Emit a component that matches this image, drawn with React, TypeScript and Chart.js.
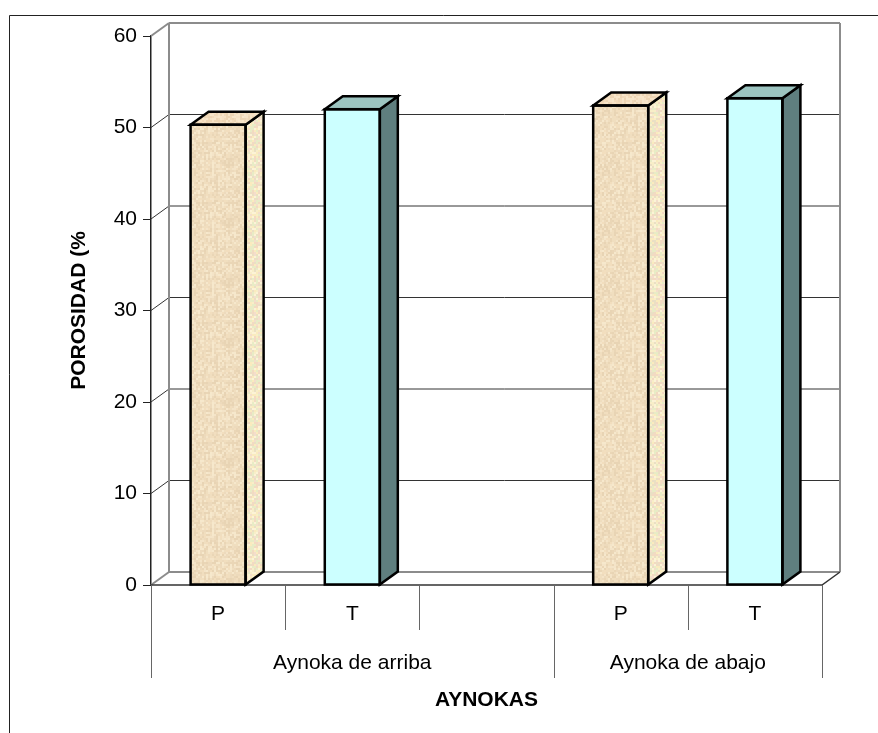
import React, { useEffect, useRef } from 'react';
import { Chart, registerables } from 'chart.js';

Chart.register(...registerables);

// ---- data ----
const categories = ['P', 'T', '', 'P', 'T'];
const porosity: (number | null)[] = [50.3, 52.0, null, 52.4, 53.2];
const groupLabels = ['Aynoka de arriba', 'Aynoka de abajo'];
const groupSizes = [3, 2];
const yMin = 0;
const yMax = 60;
const yStep = 10;
const yTitle = 'POROSIDAD (%';
const xTitle = 'AYNOKAS';

// ---- style ----
const FONT = 'Liberation Sans, Arial, sans-serif';
const FS = 21;
const DX = 18;
const DY = -13;

function hash(x: number, y: number, s: number) {
  let h = (Math.imul(x, 374761393) + Math.imul(y, 668265263) + Math.imul(s, 144665)) | 0;
  h = Math.imul(h ^ (h >>> 13), 1274126177);
  h = h ^ (h >>> 16);
  return (h >>> 0) / 4294967296;
}

function makeTexture(palette: string[], seed: number, size = 60, block = 2) {
  const c = document.createElement('canvas');
  c.width = size;
  c.height = size;
  const g = c.getContext('2d')!;
  for (let y = 0; y < size; y += block) {
    for (let x = 0; x < size; x += block) {
      g.fillStyle = palette[Math.floor(hash(x, y, seed) * palette.length)];
      g.fillRect(x, y, block, block);
    }
  }
  return c;
}

export default function App() {
  const ref = useRef<HTMLCanvasElement | null>(null);

  useEffect(() => {
    const canvas = ref.current;
    if (!canvas) return;
    const ctx = canvas.getContext('2d')!;

    const pFront = ctx.createPattern(
      makeTexture(['#F0DEBF', '#F4E4C8', '#EAD6B6', '#F6E8CC', '#EDDABC', '#F2DEBE', '#E8D4B4'], 1),
      'repeat'
    )!;
    const pSide = ctx.createPattern(
      makeTexture(['#F8EEC8', '#F4DECC', '#E8ECC6', '#FAEBBE', '#F2DAC2', '#FCF3D6', '#EADFC4'], 2),
      'repeat'
    )!;
    const pTop = ctx.createPattern(
      makeTexture(['#F2DABA', '#F6E2C6', '#EDD5B4', '#F8E6CA'], 3),
      'repeat'
    )!;

    const faces: Record<string, { front: any; side: any; top: any }> = {
      P: { front: pFront, side: pSide, top: pTop },
      T: { front: '#CCFFFF', side: '#5F7F7F', top: '#9CC4C0' },
    };

    const plugin = {
      id: 'excel3d',
      beforeDatasetsDraw(chart: any) {
        const { ctx: c, chartArea, scales } = chart;
        const { left, right, top, bottom } = chartArea;
        const y = scales.y;
        const x = scales.x;
        c.save();
        // outer frame
        c.strokeStyle = '#222';
        c.lineWidth = 1;
        c.beginPath();
        c.moveTo(9.5, chart.height);
        c.lineTo(9.5, 15.5);
        c.lineTo(chart.width, 15.5);
        c.stroke();

        // back wall gridlines + left wall diagonals
        const ticks = y.ticks.map((t: any) => t.value);
        ticks.forEach((v: number) => {
          const py = y.getPixelForValue(v);
          const edge = v === yMin || v === yMax;
          c.strokeStyle = edge ? '#8C8C8C' : '#333';
          c.lineWidth = edge ? 2 : 1;
          c.beginPath();
          c.moveTo(left + DX, py + DY);
          c.lineTo(right + DX, py + DY);
          c.stroke();
          c.beginPath();
          c.moveTo(left, py);
          c.lineTo(left + DX, py + DY);
          c.stroke();
        });
        // back wall vertical edges
        c.strokeStyle = '#8C8C8C';
        c.lineWidth = 2;
        c.beginPath();
        c.moveTo(left + DX, top + DY);
        c.lineTo(left + DX, bottom + DY);
        c.moveTo(right + DX, top + DY);
        c.lineTo(right + DX, bottom + DY);
        c.stroke();

        // floor front edge and right diagonal
        c.strokeStyle = '#333';
        c.lineWidth = 1.5;
        c.beginPath();
        c.moveTo(left, bottom);
        c.lineTo(right, bottom);
        c.lineTo(right + DX, bottom + DY);
        c.stroke();

        // category dividers and group dividers
        const n = categories.length;
        const bounds: number[] = [];
        for (let i = 0; i <= n; i++) {
          if (i === 0) bounds.push(left);
          else if (i === n) bounds.push(right);
          else bounds.push((x.getPixelForTick(i - 1) + x.getPixelForTick(i)) / 2);
        }
        const groupIdx = new Set<number>([0]);
        let acc = 0;
        groupSizes.forEach((s) => {
          acc += s;
          groupIdx.add(acc);
        });
        c.strokeStyle = '#666';
        c.lineWidth = 1;
        bounds.forEach((bx, i) => {
          const len = groupIdx.has(i) ? 93 : 45;
          const px = Math.round(bx) + 0.5;
          c.beginPath();
          c.moveTo(px, bottom);
          c.lineTo(px, bottom + len);
          c.stroke();
        });

        // group labels
        c.fillStyle = '#000';
        c.font = `${FS}px ${FONT}`;
        c.textAlign = 'center';
        c.textBaseline = 'middle';
        let start = 0;
        groupSizes.forEach((s, gi) => {
          const cx = (bounds[start] + bounds[start + s]) / 2;
          c.fillText(groupLabels[gi], cx, bottom + 78);
          start += s;
        });
        c.restore();
      },
      afterDatasetsDraw(chart: any) {
        const { ctx: c } = chart;
        const meta = chart.getDatasetMeta(0);
        c.save();
        c.strokeStyle = '#000';
        c.lineWidth = 2.5;
        c.lineJoin = 'miter';
        meta.data.forEach((el: any, i: number) => {
          const v = porosity[i];
          if (v === null || v === undefined) return;
          const f = faces[categories[i]];
          const props = el.getProps(['x', 'y', 'base', 'width'], true);
          const x0 = props.x - props.width / 2;
          const x1 = props.x + props.width / 2;
          const yt = props.y;
          const yb = props.base;
          // side face
          c.fillStyle = f.side;
          c.beginPath();
          c.moveTo(x1, yt);
          c.lineTo(x1 + DX, yt + DY);
          c.lineTo(x1 + DX, yb + DY);
          c.lineTo(x1, yb);
          c.closePath();
          c.fill();
          c.stroke();
          // top face
          c.fillStyle = f.top;
          c.beginPath();
          c.moveTo(x0, yt);
          c.lineTo(x0 + DX, yt + DY);
          c.lineTo(x1 + DX, yt + DY);
          c.lineTo(x1, yt);
          c.closePath();
          c.fill();
          c.stroke();
          // front outline
          c.strokeRect(x0, yt, x1 - x0, yb - yt);
        });
        c.restore();
      },
    };

    const chart = new Chart(canvas, {
      type: 'bar',
      data: {
        labels: categories,
        datasets: [
          {
            data: porosity as any,
            backgroundColor: categories.map((k) => (faces[k] ? faces[k].front : 'transparent')),
            borderColor: '#000',
            borderWidth: 0,
            barPercentage: 0.41,
            categoryPercentage: 1,
          },
        ],
      },
      options: {
        animation: false,
        responsive: false,
        events: [],
        layout: { padding: { top: 36, right: 56, bottom: 0, left: 0 } },
        plugins: { legend: { display: false }, tooltip: { enabled: false } },
        scales: {
          x: {
            type: 'category',
            offset: true,
            grid: { display: false, drawTicks: false },
            border: { display: false },
            ticks: { color: '#000', font: { family: FONT, size: FS }, padding: 17 },
            title: {
              display: true,
              text: xTitle,
              color: '#000',
              font: { family: FONT, size: FS, weight: 'bold' },
              padding: { top: 0, bottom: 20 },
            },
            afterFit: (s: any) => {
              s.height = 148;
            },
          },
          y: {
            min: yMin,
            max: yMax,
            ticks: { stepSize: yStep, color: '#000', font: { family: FONT, size: FS }, padding: 6 },
            grid: { drawOnChartArea: false, drawTicks: true, tickLength: 8, color: '#222', lineWidth: 1 },
            border: { display: true, color: '#222', width: 1.5 },
            title: {
              display: true,
              text: yTitle,
              color: '#000',
              font: { family: FONT, size: FS, weight: 'bold' },
              padding: { top: 67, bottom: 0 },
            },
            afterFit: (s: any) => {
              s.width = 151;
            },
          },
        },
      },
      plugins: [plugin],
    });

    return () => chart.destroy();
  }, []);

  return (
    <div style={{ position: 'fixed', left: 0, top: 0, width: 878, height: 733, background: '#fff' }}>
      <canvas ref={ref} width={878} height={733} style={{ display: 'block' }} />
    </div>
  );
}
